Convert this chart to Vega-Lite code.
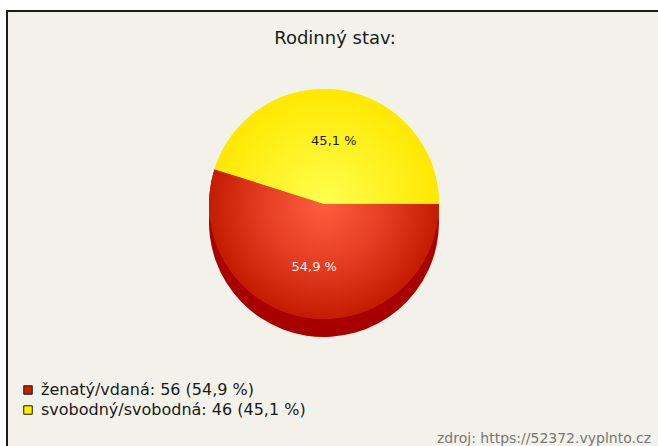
{
  "$schema": "https://vega.github.io/schema/vega-lite/v6.json",
  "width": 658,
  "height": 446,
  "autosize": {"type": "fit", "contains": "padding"},
  "padding": {"left": 7, "top": 11, "right": -5, "bottom": -5},
  "background": "white",
  "config": {
    "view": {"fill": "#f3f2ea", "stroke": "#1a1a1a", "strokeWidth": 2},
    "font": "DejaVu Sans"
  },
  "title": {
    "text": "Rodinný stav:",
    "font": "DejaVu Sans",
    "fontSize": 18,
    "fontWeight": "normal",
    "color": "#1a1a1a",
    "anchor": "middle",
    "baseline": "top",
    "offset": -20,
    "dy": 17
  },
  "datasets": {
    "stav": [
      {"stav": "ženatý/vdaná", "pocet": 56, "podil": "54,9 %", "popis": "ženatý/vdaná: 56 (54,9 %)"},
      {"stav": "svobodný/svobodná", "pocet": 46, "podil": "45,1 %", "popis": "svobodný/svobodná: 46 (45,1 %)"}
    ]
  },
  "layer": [
    {
      "data": {"name": "stav"},
      "mark": {"type": "arc", "outerRadius": 115, "xOffset": -11, "yOffset": -9, "color": "#a80000"},
      "encoding": {
        "theta": {"field": "pocet", "type": "quantitative", "stack": true, "scale": {"range": [1.5708, 7.854]}},
        "order": {"field": "pocet", "sort": "descending"}
      }
    },
    {
      "data": {"name": "stav"},
      "mark": {"type": "arc", "outerRadius": 115, "xOffset": -11, "yOffset": -27},
      "encoding": {
        "theta": {"field": "pocet", "type": "quantitative", "stack": true, "scale": {"range": [1.5708, 7.854]}},
        "order": {"field": "pocet", "sort": "descending"},
        "color": {
          "field": "popis",
          "type": "nominal",
          "scale": {
            "domain": ["ženatý/vdaná: 56 (54,9 %)", "svobodný/svobodná: 46 (45,1 %)"],
            "range": ["#c42000", "#ffee00"]
          },
          "legend": {
            "orient": "none",
            "legendX": 13,
            "legendY": 371,
            "title": null,
            "direction": "vertical",
            "symbolType": "square",
            "symbolSize": 72,
            "symbolStrokeColor": "#1a1a1a",
            "symbolStrokeWidth": 1,
            "symbolOpacity": 1,
            "labelFont": "DejaVu Sans",
            "labelFontSize": 16,
            "labelColor": "#1a1a1a",
            "labelOffset": 5,
            "labelLimit": 0,
            "rowPadding": 4,
            "padding": 0
          }
        }
      }
    },
    {
      "data": {"name": "stav"},
      "mark": {"type": "arc", "outerRadius": 115, "xOffset": -11, "yOffset": -27},
      "encoding": {
        "theta": {"field": "pocet", "type": "quantitative", "stack": true, "scale": {"range": [1.5708, 7.854]}},
        "order": {"field": "pocet", "sort": "descending"},
        "fill": {
          "condition": {
            "test": "datum.pocet == 56",
            "value": {
              "gradient": "radial",
              "x1": 0.5, "y1": 0.325, "r1": 0,
              "x2": 0.5, "y2": 0.325, "r2": 0.5,
              "stops": [
                {"offset": 0, "color": "#ff5e3e"},
                {"offset": 0.55, "color": "#e43c22"},
                {"offset": 1, "color": "#c41c00"}
              ]
            }
          },
          "value": {
            "gradient": "radial",
            "x1": 0.488, "y1": 0.756, "r1": 0,
            "x2": 0.488, "y2": 0.756, "r2": 0.512,
            "stops": [
              {"offset": 0, "color": "#ffff50"},
              {"offset": 1, "color": "#ffe800"}
            ]
          }
        }
      }
    },
    {
      "data": {"name": "stav"},
      "mark": {"type": "text", "radius": 64, "xOffset": -11, "yOffset": -27, "font": "DejaVu Sans", "fontSize": 13},
      "encoding": {
        "theta": {"field": "pocet", "type": "quantitative", "stack": true, "scale": {"range": [1.5708, 7.854]}},
        "order": {"field": "pocet", "sort": "descending"},
        "text": {"field": "podil", "type": "nominal"},
        "color": {"condition": {"test": "datum.pocet == 56", "value": "#fff4f0"}, "value": "#1a1a1a"}
      }
    },
    {
      "data": {"values": [{"zdroj": "zdroj: https://52372.vyplnto.cz"}]},
      "mark": {"type": "text", "align": "right", "baseline": "alphabetic", "font": "DejaVu Sans", "fontSize": 14, "color": "#777777", "dx": -12, "dy": -8},
      "encoding": {
        "x": {"value": "width"},
        "y": {"value": "height"},
        "text": {"field": "zdroj", "type": "nominal"}
      }
    }
  ]
}
